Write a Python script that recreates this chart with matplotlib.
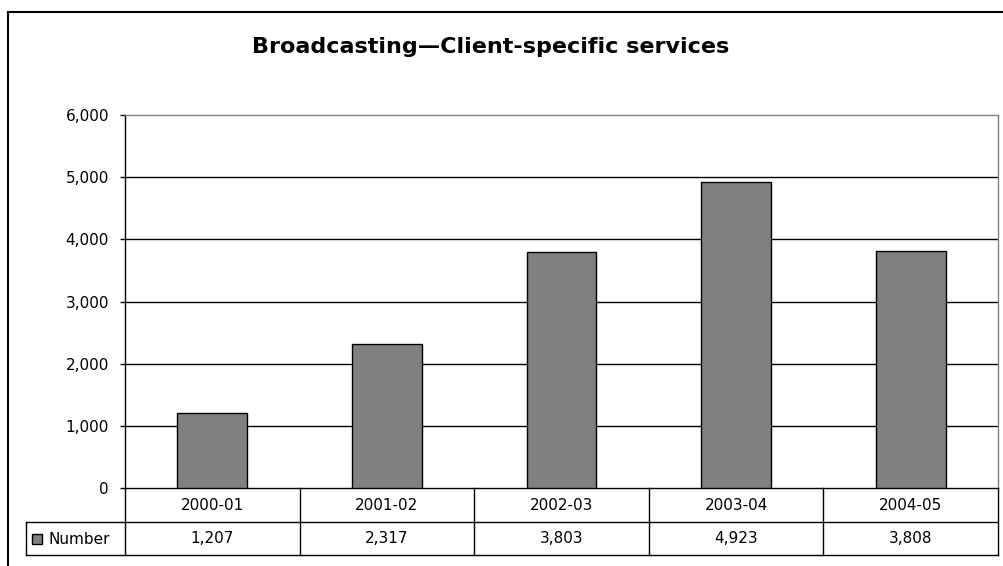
import matplotlib
matplotlib.use("Agg")
import matplotlib.pyplot as plt
from matplotlib.transforms import blended_transform_factory
from matplotlib.patches import Rectangle
from matplotlib.lines import Line2D

categories = ["2000-01", "2001-02", "2002-03", "2003-04", "2004-05"]
values = [1207, 2317, 3803, 4923, 3808]
series_name = "Number"
title = "Broadcasting\u2014Client-specific services"
yticks = [0, 1000, 2000, 3000, 4000, 5000, 6000]

W, H = 1004, 566
fig = plt.figure(figsize=(W / 100, H / 100), dpi=100)
plt.rcParams['font.family'] = ['DejaVu Sans']
FS = 11

# outer frame (right and bottom edges lie outside the picture)
fig.patches.append(Rectangle((8 / W, -0.2), 2.0, (H - 12) / H + 0.2, transform=fig.transFigure,
                             fill=False, edgecolor='black', linewidth=1.5, clip_on=False))

left, right, top, bottom = 125, 998, 115, 488
ax = fig.add_axes([left / W, (H - bottom) / H, (right - left) / W, (bottom - top) / H])

x = range(len(categories))
ax.bar(x, values, width=0.4, color='#808080', edgecolor='black', linewidth=1, zorder=3)
ax.set_xlim(-0.5, len(categories) - 0.5)
ax.set_ylim(0, 6000)
ax.set_yticks(yticks)
ax.set_yticklabels([f"{v:,}" for v in yticks], fontsize=FS)
ax.tick_params(axis='y', direction='out', length=3.6, width=1, pad=8.0)
ax.set_xticks([])
for v in yticks[1:-1]:
    ax.axhline(v, color='black', linewidth=1, zorder=1)
ax.spines['left'].set_color('black')
ax.spines['bottom'].set_color('black')
ax.spines['top'].set_color('#808080')
ax.spines['right'].set_color('#808080')
for s in ax.spines.values():
    s.set_linewidth(1)

fig.text(491 / W, (H - 47) / H, title, ha='center', va='center', fontsize=16, fontweight='bold')

# data table
tr = blended_transform_factory(ax.transData, ax.transAxes)
ah = bottom - top
r1 = -34 / ah
r2 = -67 / ah
n = len(categories)
xl = -0.5
xr = n - 0.5
leg_left = -0.5 - 99 / ((right - left) / n)
lk = dict(color='black', linewidth=1, transform=tr, clip_on=False)
ax.add_line(Line2D([leg_left, xr], [r1, r1], **lk))
ax.add_line(Line2D([leg_left, xr], [r2, r2], **lk))
ax.add_line(Line2D([leg_left, leg_left], [r1, r2], **lk))
for i in range(n + 1):
    ax.add_line(Line2D([i - 0.5, i - 0.5], [0, r2], **lk))
for i, (c, v) in enumerate(zip(categories, values)):
    ax.text(i, r1 / 2, c, transform=tr, ha='center', va='center', fontsize=FS, clip_on=False)
    ax.text(i, (r1 + r2) / 2, f"{v:,}", transform=tr, ha='center', va='center', fontsize=FS, clip_on=False)
fig.patches.append(Rectangle((32 / W, (H - 544) / H), 10 / W, 10 / H, transform=fig.transFigure,
                             facecolor='#808080', edgecolor='black', linewidth=1))
fig.text(49 / W, (H - 539) / H, series_name, ha='left', va='center', fontsize=FS)

fig.savefig("out.png", dpi=100)
